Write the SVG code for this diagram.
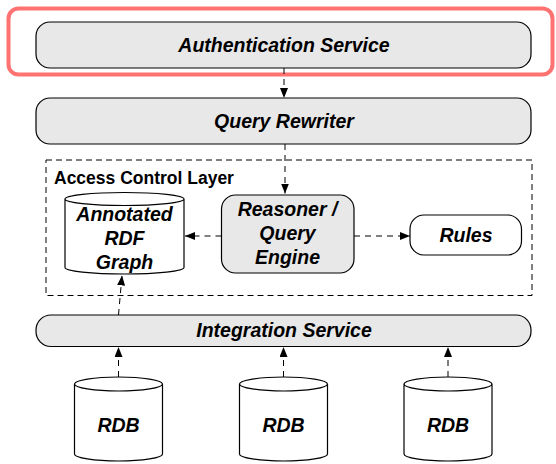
<svg xmlns="http://www.w3.org/2000/svg" width="556" height="464" viewBox="0 0 556 464">
<defs>
<marker id="arr" viewBox="0 0 10 8" refX="10" refY="4" markerWidth="10" markerHeight="8" markerUnits="userSpaceOnUse" orient="auto">
<path d="M0,0 L10,4 L0,8 Z" fill="#000"/>
</marker>
<style>
.box{fill:#e8e8e8;stroke:#000;stroke-width:1.2}
.wbox{fill:#fff;stroke:#000;stroke-width:1.2}
.lbl{font-family:"Liberation Sans",Arial,sans-serif;font-size:19.5px;font-weight:bold;font-style:italic;fill:#000;text-anchor:middle}
.title{font-family:"Liberation Sans",Arial,sans-serif;font-size:17.5px;font-weight:bold;fill:#000}
.conn{fill:none;stroke:#000;stroke-width:1;stroke-dasharray:6 5;marker-end:url(#arr)}
</style>
</defs>
<rect x="8.5" y="8.5" width="544" height="66" rx="10" fill="none" stroke="#ff7272" stroke-width="4"/>
<g id="layer">
<rect x="46" y="160" width="486" height="135.5" fill="none" stroke="#000" stroke-width="1" stroke-dasharray="6 4"/>
<text class="title" x="54" y="184">Access Control Layer</text>
</g>
<g id="auth">
<rect class="box" x="36" y="22" width="495" height="46" rx="14"/>
<text class="lbl" x="284" y="52">Authentication Service</text>
</g>
<g id="rewriter">
<rect class="box" x="36" y="98" width="495" height="46" rx="14"/>
<text class="lbl" x="284" y="128">Query Rewriter</text>
</g>
<g id="annotated">
<path class="wbox" d="M65,199 L65,267.5 A59.5,6.5 0 0 0 184,267.5 L184,199 A59.5,6.5 0 0 0 65,199 A59.5,6.5 0 0 0 184,199"/>
<text class="lbl" x="124.5" y="221">Annotated</text>
<text class="lbl" x="124.5" y="245">RDF</text>
<text class="lbl" x="124.5" y="269">Graph</text>
</g>
<g id="reasoner">
<rect class="box" x="221.5" y="195" width="132.5" height="78" rx="14"/>
<text class="lbl" x="287.5" y="216">Reasoner /</text>
<text class="lbl" x="287.5" y="240">Query</text>
<text class="lbl" x="287.5" y="264">Engine</text>
</g>
<g id="rules">
<rect class="wbox" x="410" y="215" width="111.5" height="40" rx="14"/>
<text class="lbl" x="466" y="241.5">Rules</text>
</g>
<g id="integration">
<rect class="box" x="36" y="315" width="495" height="31.5" rx="15"/>
<text class="lbl" x="284" y="337">Integration Service</text>
</g>
<g id="rdb1">
<path class="wbox" d="M74.5,384 L74.5,454 A44,7 0 0 0 162.5,454 L162.5,384 A44,7 0 0 0 74.5,384 A44,7 0 0 0 162.5,384"/>
<text class="lbl" x="118.5" y="432">RDB</text>
</g>
<g id="rdb2">
<path class="wbox" d="M239.5,384 L239.5,454 A44,7 0 0 0 327.5,454 L327.5,384 A44,7 0 0 0 239.5,384 A44,7 0 0 0 327.5,384"/>
<text class="lbl" x="283.5" y="432">RDB</text>
</g>
<g id="rdb3">
<path class="wbox" d="M404,384 L404,454 A44,7 0 0 0 492,454 L492,384 A44,7 0 0 0 404,384 A44,7 0 0 0 492,384"/>
<text class="lbl" x="448" y="432">RDB</text>
</g>
<g id="connectors">
<path class="conn" d="M284,68 L284,98"/>
<path class="conn" d="M285,144 L285,193.5"/>
<path class="conn" d="M221.5,236 L185,236"/>
<path class="conn" d="M354,236 L410,236"/>
<path class="conn" d="M118.5,315 L122,275.5"/>
<path class="conn" d="M118.5,377 L118.5,347"/>
<path class="conn" d="M283.5,377 L283.5,347"/>
<path class="conn" d="M448,377 L448,347"/>
</g>
</svg>
